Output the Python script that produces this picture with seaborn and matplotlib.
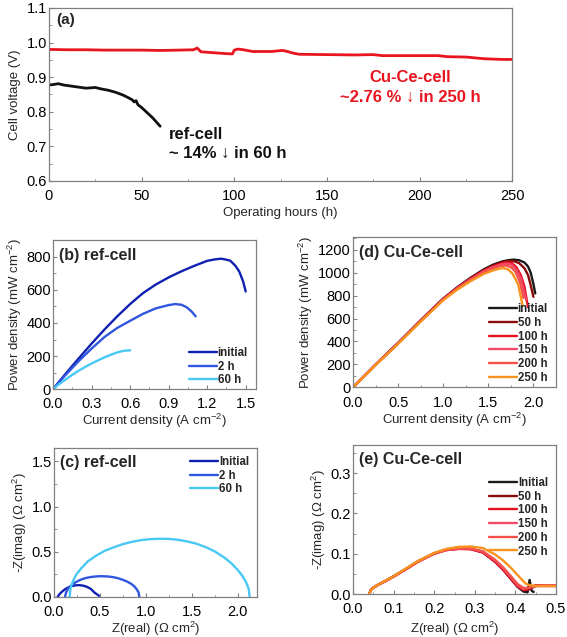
import numpy as np
import pandas as pd
import matplotlib.pyplot as plt
import seaborn as sns
from matplotlib.ticker import MultipleLocator

# (a) stability test
cuce_hours = [0, 10, 20, 30, 40, 50, 60, 70, 78, 80, 82, 85, 90, 95, 99, 100, 102, 105, 110,
              120, 126, 128, 132, 135, 150, 165, 175, 180, 200, 210, 215, 225, 235, 245, 250]
cuce_volt = [0.980, 0.979, 0.979, 0.978, 0.978, 0.978, 0.977, 0.978, 0.979, 0.984, 0.973, 0.972,
             0.970, 0.968, 0.967, 0.978, 0.981, 0.979, 0.974, 0.974, 0.977, 0.975, 0.969, 0.966,
             0.965, 0.964, 0.965, 0.962, 0.962, 0.962, 0.959, 0.958, 0.953, 0.951, 0.951]
ref_hours = [0, 3, 5, 8, 12, 16, 20, 25, 28, 32, 36, 40, 43, 45, 46, 47, 48, 50, 53, 56, 58, 60]
ref_volt = [0.877, 0.879, 0.881, 0.877, 0.874, 0.871, 0.868, 0.870, 0.866, 0.862, 0.856, 0.848,
            0.840, 0.834, 0.828, 0.832, 0.820, 0.812, 0.797, 0.782, 0.770, 0.758]

# (b) ref-cell power density
b_labels = ["initial", "2 h", "60 h"]
b_x = [[0, 0.05, 0.1, 0.15, 0.2, 0.3, 0.4, 0.5, 0.6, 0.7, 0.8, 0.9, 1.0, 1.1, 1.2, 1.26, 1.31,
        1.35, 1.38, 1.42, 1.45, 1.48, 1.5],
       [0, 0.05, 0.1, 0.2, 0.3, 0.4, 0.5, 0.6, 0.7, 0.8, 0.9, 0.95, 1.0, 1.04, 1.08, 1.11],
       [0, 0.05, 0.1, 0.15, 0.2, 0.25, 0.3, 0.35, 0.4, 0.45, 0.5, 0.55, 0.6]]
b_y = [[0, 48, 95, 141, 186, 275, 360, 440, 514, 580, 632, 675, 712, 745, 775, 784, 788,
        782, 776, 745, 710, 650, 590],
       [0, 45, 88, 170, 245, 315, 370, 413, 455, 488, 508, 514, 510, 495, 468, 440],
       [0, 32, 60, 87, 112, 134, 155, 174, 192, 208, 222, 232, 235]]
b_colors = ["#1020b0", "#3056e0", "#48c8f5"]

# (d) Cu-Ce-cell power density
d_labels = ["initial", "50 h", "100 h", "150 h", "200 h", "250 h"]
d_x = [[0, 0.25, 0.5, 0.75, 1.0, 1.15, 1.3, 1.45, 1.55, 1.65, 1.72, 1.78, 1.84, 1.9, 1.94, 1.97, 2.0, 2.02],
       [0, 0.25, 0.5, 0.75, 1.0, 1.15, 1.3, 1.45, 1.55, 1.65, 1.72, 1.78, 1.84, 1.9, 1.94, 1.97, 2.0],
       [0, 0.25, 0.5, 0.75, 1.0, 1.15, 1.3, 1.45, 1.55, 1.65, 1.71, 1.76, 1.81, 1.86, 1.9, 1.94],
       [0, 0.25, 0.5, 0.75, 1.0, 1.15, 1.3, 1.45, 1.55, 1.65, 1.71, 1.76, 1.81, 1.86, 1.92],
       [0, 0.25, 0.5, 0.75, 1.0, 1.15, 1.3, 1.45, 1.55, 1.63, 1.69, 1.75, 1.8, 1.85, 1.89],
       [0, 0.25, 0.5, 0.75, 1.0, 1.15, 1.3, 1.45, 1.55, 1.62, 1.67, 1.72, 1.77, 1.83, 1.88]]
d_y = [[0, 198, 388, 585, 775, 870, 955, 1030, 1070, 1098, 1110, 1115, 1110, 1090, 1055, 1000, 900, 820],
       [0, 198, 387, 584, 773, 867, 950, 1025, 1062, 1092, 1103, 1102, 1085, 1040, 980, 890, 790],
       [0, 197, 385, 582, 771, 864, 946, 1018, 1055, 1082, 1090, 1085, 1050, 980, 880, 700],
       [0, 196, 384, 580, 769, 861, 942, 1013, 1048, 1074, 1080, 1070, 1030, 950, 760],
       [0, 195, 382, 577, 766, 857, 936, 1004, 1038, 1058, 1064, 1050, 1010, 920, 780],
       [0, 194, 380, 573, 760, 850, 925, 990, 1020, 1036, 1040, 1030, 990, 900, 715]]
d_colors = ["#1a1a1a", "#8b0a0a", "#e8101e", "#f0486a", "#f5504a", "#f7931e"]

# (c) ref-cell impedance
c_labels = ["Initial", "2 h", "60 h"]
c_x = [[0.04, 0.05, 0.07, 0.1, 0.13, 0.16, 0.2, 0.24, 0.28, 0.32, 0.36, 0.4, 0.42, 0.44, 0.46, 0.48, 0.49],
       [0.12, 0.13, 0.15, 0.18, 0.22, 0.26, 0.3, 0.35, 0.4, 0.45, 0.5, 0.55, 0.6, 0.65, 0.7, 0.75,
        0.8, 0.84, 0.87, 0.9, 0.92, 0.93],
       [0.17, 0.18, 0.2, 0.24, 0.3, 0.37, 0.45, 0.55, 0.65, 0.75, 0.85, 0.95, 1.05, 1.15, 1.25,
        1.35, 1.45, 1.55, 1.65, 1.75, 1.85, 1.93, 2.0, 2.05, 2.09, 2.12, 2.13]]
c_y = [[0.0, 0.018, 0.042, 0.07, 0.092, 0.108, 0.122, 0.13, 0.131, 0.125, 0.112, 0.09, 0.07,
        0.05, 0.035, 0.022, 0.012],
       [0.0, 0.045, 0.087, 0.121, 0.153, 0.177, 0.195, 0.211, 0.221, 0.227, 0.23, 0.229, 0.226,
        0.219, 0.207, 0.19, 0.169, 0.146, 0.122, 0.087, 0.052, 0.0],
       [0.0, 0.095, 0.159, 0.245, 0.321, 0.395, 0.452, 0.51, 0.55, 0.585, 0.611, 0.63, 0.641,
        0.645, 0.643, 0.633, 0.615, 0.59, 0.553, 0.505, 0.44, 0.375, 0.3, 0.236, 0.167, 0.09, 0.0]]

# (e) Cu-Ce-cell impedance
e_labels = ["Initial", "50 h", "100 h", "150 h", "200 h", "250 h"]
e_x = [[0.04, 0.045, 0.06, 0.08, 0.1, 0.13, 0.16, 0.2, 0.23, 0.26, 0.29, 0.32, 0.35, 0.37,
        0.39, 0.405, 0.42, 0.43, 0.435, 0.44, 0.445],
       [0.04, 0.045, 0.06, 0.08, 0.1, 0.13, 0.16, 0.2, 0.23, 0.26, 0.29, 0.32, 0.35, 0.37,
        0.39, 0.405, 0.42, 0.43, 0.45, 0.5],
       [0.04, 0.045, 0.06, 0.08, 0.1, 0.13, 0.16, 0.2, 0.23, 0.26, 0.29, 0.32, 0.35, 0.37,
        0.39, 0.405, 0.42, 0.43, 0.45, 0.5],
       [0.04, 0.045, 0.06, 0.08, 0.1, 0.13, 0.16, 0.2, 0.23, 0.26, 0.29, 0.32, 0.35, 0.37,
        0.39, 0.405, 0.42, 0.43, 0.45, 0.5],
       [0.04, 0.045, 0.06, 0.08, 0.1, 0.13, 0.16, 0.2, 0.23, 0.26, 0.29, 0.32, 0.35, 0.37,
        0.39, 0.405, 0.42, 0.43, 0.45, 0.5],
       [0.04, 0.045, 0.06, 0.08, 0.1, 0.13, 0.16, 0.2, 0.23, 0.26, 0.29, 0.32, 0.35, 0.37,
        0.39, 0.41, 0.425, 0.435, 0.45, 0.5]]
e_y = [[0.0, 0.012, 0.022, 0.032, 0.044, 0.062, 0.081, 0.101, 0.11, 0.113, 0.112, 0.103, 0.08,
        0.06, 0.036, 0.018, 0.006, 0.004, 0.035, 0.008, 0.005],
       [0.0, 0.012, 0.022, 0.033, 0.044, 0.062, 0.081, 0.101, 0.11, 0.113, 0.112, 0.104, 0.081,
        0.061, 0.037, 0.02, 0.01, 0.01, 0.02, 0.02],
       [0.0, 0.012, 0.022, 0.032, 0.043, 0.061, 0.08, 0.1, 0.109, 0.112, 0.111, 0.103, 0.08,
        0.06, 0.036, 0.019, 0.01, 0.012, 0.022, 0.02],
       [0.0, 0.012, 0.022, 0.032, 0.043, 0.061, 0.08, 0.1, 0.109, 0.112, 0.112, 0.105, 0.083,
        0.063, 0.04, 0.022, 0.012, 0.015, 0.02, 0.022],
       [0.0, 0.012, 0.022, 0.032, 0.043, 0.062, 0.081, 0.101, 0.11, 0.113, 0.113, 0.106, 0.085,
        0.066, 0.043, 0.025, 0.015, 0.015, 0.02, 0.02],
       [0.0, 0.012, 0.022, 0.033, 0.044, 0.063, 0.082, 0.102, 0.112, 0.117, 0.118, 0.114, 0.098,
        0.083, 0.064, 0.042, 0.026, 0.022, 0.02, 0.02]]

sns.set_style("ticks")
plt.rcParams['font.family'] = ['Liberation Sans', 'DejaVu Sans']
plt.rcParams['mathtext.default'] = 'regular'
plt.rcParams['axes.unicode_minus'] = False
plt.rcParams['xtick.direction'] = 'in'
plt.rcParams['ytick.direction'] = 'in'
plt.rcParams['axes.edgecolor'] = '#808080'
plt.rcParams['xtick.color'] = '#808080'
plt.rcParams['ytick.color'] = '#808080'
plt.rcParams['xtick.labelcolor'] = 'black'
plt.rcParams['ytick.labelcolor'] = 'black'

fig = plt.figure(figsize=(5.67, 6.37), dpi=100)
ax_a = fig.add_axes([0.0864, 0.716, 0.817, 0.2716])
ax_b = fig.add_axes([0.0935, 0.389, 0.358, 0.234])
ax_d = fig.add_axes([0.6226, 0.392, 0.358, 0.2355])
ax_c = fig.add_axes([0.0952, 0.0628, 0.358, 0.234])
ax_e = fig.add_axes([0.6226, 0.0675, 0.358, 0.234])

tick_fs = 10.5
lab_fs = 9.5


def style(ax, xmaj, xmin, ymaj, ymin):
    ax.xaxis.set_major_locator(MultipleLocator(xmaj))
    ax.xaxis.set_minor_locator(MultipleLocator(xmin))
    ax.yaxis.set_major_locator(MultipleLocator(ymaj))
    ax.yaxis.set_minor_locator(MultipleLocator(ymin))
    ax.tick_params(which='major', length=3, width=0.8, labelsize=tick_fs)
    ax.tick_params(axis='y', which='major', pad=1.5)
    ax.tick_params(axis='x', which='major', pad=5.5)
    ax.tick_params(which='minor', length=1.8, width=0.6)
    for s in ax.spines.values():
        s.set_linewidth(0.9)


def add_legend(ax, **kw):
    ax.legend(frameon=False, handlelength=2.4, handletextpad=0.1, labelspacing=0.15,
              borderaxespad=0.3, prop={'weight': 'bold', 'size': 8.3}, **kw)


# (a)
sns.lineplot(x=cuce_hours, y=cuce_volt, ax=ax_a, color="#e8141e", lw=2.0, sort=False, estimator=None)
sns.lineplot(x=ref_hours, y=ref_volt, ax=ax_a, color="#111111", lw=2.0, sort=False, estimator=None)
ax_a.set_xlim(0, 250)
ax_a.set_ylim(0.6, 1.1)
style(ax_a, 50, 25, 0.1, 0.05)
ax_a.yaxis.set_major_formatter(plt.FormatStrFormatter('%.1f'))
ax_a.set_xlabel("Operating hours (h)", fontsize=lab_fs, labelpad=3)
ax_a.set_ylabel("Cell voltage (V)", fontsize=lab_fs, labelpad=4)
ax_a.text(0.015, 0.93, "(a)", transform=ax_a.transAxes, fontsize=11, fontweight='bold', va='center')
ax_a.text(0.78, 0.60, "Cu-Ce-cell", transform=ax_a.transAxes, fontsize=12, fontweight='bold',
          color="#e8141e", ha='center', va='center')
ax_a.text(0.78, 0.485, "~2.76 % ↓ in 250 h", transform=ax_a.transAxes, fontsize=12,
          fontweight='bold', color="#e8141e", ha='center', va='center')
ax_a.text(0.258, 0.27, "ref-cell", transform=ax_a.transAxes, fontsize=12, fontweight='bold',
          color="#111111", ha='left', va='center')
ax_a.text(0.258, 0.16, "~ 14% ↓ in 60 h", transform=ax_a.transAxes, fontsize=12,
          fontweight='bold', color="#111111", ha='left', va='center')

# (b)
for xs, ys, lab, col in zip(b_x, b_y, b_labels, b_colors):
    sns.lineplot(x=xs, y=ys, ax=ax_b, color=col, lw=1.7, label=lab, sort=False, estimator=None)
ax_b.set_xlim(0, 1.58)
ax_b.set_ylim(0, 900)
style(ax_b, 0.3, 0.15, 200, 100)
ax_b.xaxis.set_major_formatter(plt.FormatStrFormatter('%.1f'))
ax_b.set_xlabel("Current density (A cm$^{-2}$)", fontsize=lab_fs, labelpad=1)
ax_b.set_ylabel("Power density (mW cm$^{-2}$)", fontsize=lab_fs, labelpad=2)
ax_b.text(0.03, 0.9, "(b) ref-cell", transform=ax_b.transAxes, fontsize=11.5, fontweight='bold', va='center')
add_legend(ax_b, loc='lower right', bbox_to_anchor=(1.0, -0.035))

# (d)
for xs, ys, lab, col in zip(d_x, d_y, d_labels, d_colors):
    sns.lineplot(x=xs, y=ys, ax=ax_d, color=col, lw=1.7, label=lab, sort=False, estimator=None)
ax_d.set_xlim(0, 2.25)
ax_d.set_ylim(0, 1310)
style(ax_d, 0.5, 0.25, 200, 100)
ax_d.tick_params(axis='x', which='major', pad=6.5)
ax_d.xaxis.set_major_formatter(plt.FormatStrFormatter('%.1f'))
ax_d.set_xlabel("Current density (A cm$^{-2}$)", fontsize=lab_fs, labelpad=0.5)
ax_d.set_ylabel("Power density (mW cm$^{-2}$)", fontsize=lab_fs, labelpad=2)
ax_d.text(0.03, 0.9, "(d) Cu-Ce-cell", transform=ax_d.transAxes, fontsize=11.5, fontweight='bold', va='center')
add_legend(ax_d, loc='lower right', bbox_to_anchor=(1.0, -0.03))

# (c)
for xs, ys, lab, col in zip(c_x, c_y, c_labels, b_colors):
    sns.lineplot(x=xs, y=ys, ax=ax_c, color=col, lw=1.7, label=lab, sort=False, estimator=None)
ax_c.set_xlim(0, 2.21)
ax_c.set_ylim(0, 1.65)
style(ax_c, 0.5, 0.25, 0.5, 0.25)
ax_c.xaxis.set_major_formatter(plt.FormatStrFormatter('%.1f'))
ax_c.yaxis.set_major_formatter(plt.FormatStrFormatter('%.1f'))
ax_c.set_xlabel("Z(real) (Ω cm$^2$)", fontsize=lab_fs, labelpad=1)
ax_c.set_ylabel("-Z(imag) (Ω cm$^2$)", fontsize=lab_fs, labelpad=2)
ax_c.text(0.03, 0.9, "(c) ref-cell", transform=ax_c.transAxes, fontsize=11.5, fontweight='bold', va='center')
add_legend(ax_c, loc='upper right')

# (e)
for xs, ys, lab, col in zip(e_x, e_y, e_labels, d_colors):
    sns.lineplot(x=xs, y=ys, ax=ax_e, color=col, lw=1.7, label=lab, sort=False, estimator=None)
ax_e.set_xlim(0, 0.5)
ax_e.set_ylim(0, 0.37)
style(ax_e, 0.1, 0.05, 0.1, 0.05)
ax_e.xaxis.set_major_formatter(plt.FormatStrFormatter('%.1f'))
ax_e.yaxis.set_major_formatter(plt.FormatStrFormatter('%.1f'))
ax_e.set_xlabel("Z(real) (Ω cm$^2$)", fontsize=lab_fs, labelpad=3)
ax_e.set_ylabel("-Z(imag) (Ω cm$^2$)", fontsize=lab_fs, labelpad=2)
ax_e.text(0.03, 0.9, "(e) Cu-Ce-cell", transform=ax_e.transAxes, fontsize=11.5, fontweight='bold', va='center')
add_legend(ax_e, loc='upper right', bbox_to_anchor=(1.0, 0.84))

fig.savefig("out.png", dpi=100)
